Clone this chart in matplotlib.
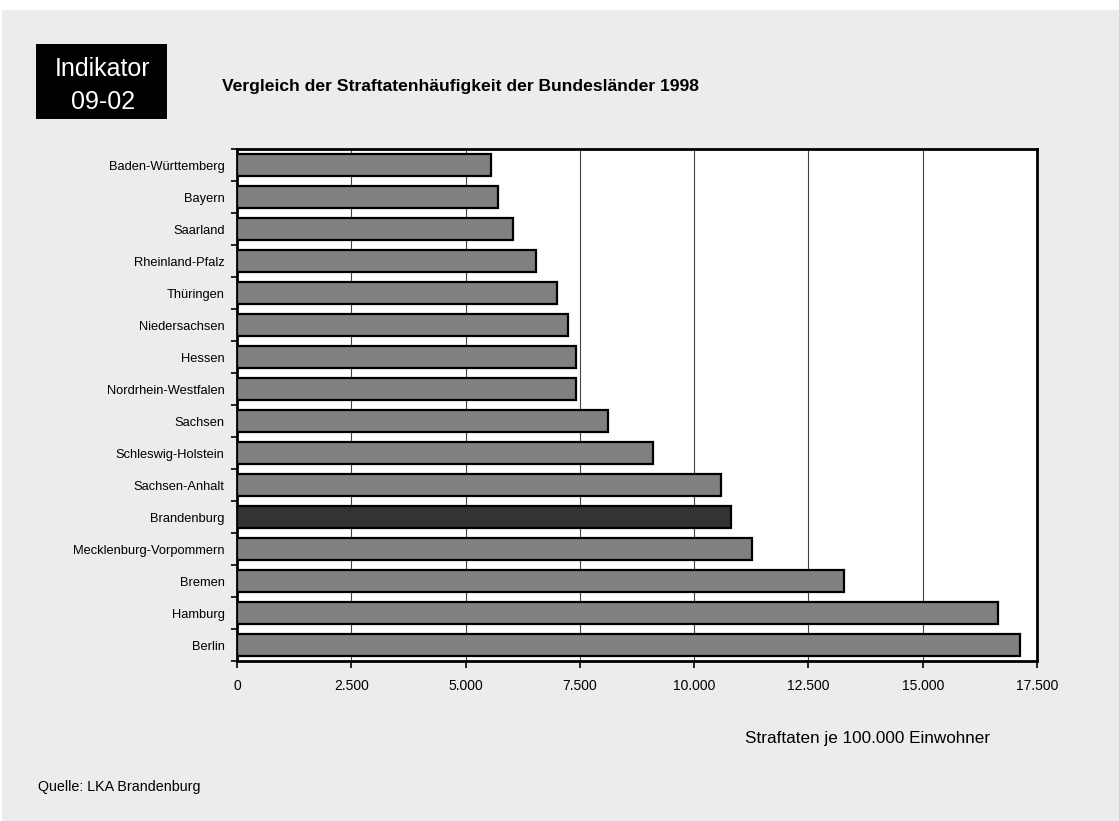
import matplotlib
matplotlib.use("Agg")
import matplotlib.pyplot as plt
from matplotlib.patches import Rectangle
from matplotlib.ticker import FuncFormatter
import numpy as np

plt.rcParams['font.family'] = ['Liberation Sans', 'DejaVu Sans']

# Straftaten je 100.000 Einwohner, 1998
laender = ["Baden-Württemberg", "Bayern", "Saarland", "Rheinland-Pfalz",
           "Thüringen", "Niedersachsen", "Hessen", "Nordrhein-Westfalen",
           "Sachsen", "Schleswig-Holstein", "Sachsen-Anhalt", "Brandenburg",
           "Mecklenburg-Vorpommern", "Bremen", "Hamburg", "Berlin"]
werte = [5550, 5700, 6030, 6530, 6990, 7230, 7410, 7410,
         8110, 9090, 10580, 10800, 11270, 13280, 16650, 17130]
hervorgehoben = "Brandenburg"
x_ticks = [0, 2500, 5000, 7500, 10000, 12500, 15000, 17500]

W, H = 1119, 821
fig = plt.figure(figsize=(W / 100, H / 100), dpi=100)
fig.patch.set_facecolor("white")
# grey panel behind everything
fig.patches.append(Rectangle((2 / W, 0), 1, 1 - 10 / H, transform=fig.transFigure,
                             facecolor="#ececec", edgecolor="none", zorder=-10))

ax = fig.add_axes([237 / W, 1 - 661 / H, 800 / W, 512 / H])
ax.set_facecolor("white")

y = np.arange(len(laender))
farben = ["#333333" if l == hervorgehoben else "#808080" for l in laender]
ax.barh(y, werte, height=0.7, color=farben, edgecolor="black", linewidth=1.6, zorder=3)

ax.set_xlim(0, 17500)
ax.set_ylim(len(laender) - 0.5, -0.5)

ax.set_xticks(x_ticks)
ax.xaxis.set_major_formatter(FuncFormatter(lambda v, p: f"{int(v):,}".replace(",", ".")))
ax.grid(axis="x", color="#444444", linewidth=0.8, zorder=0)

ax.set_yticks(y)
ax.set_yticklabels(laender, fontsize=9.3)
ax.set_yticks(np.arange(len(laender) + 1) - 0.5, minor=True)
ax.tick_params(axis="y", which="major", length=0, pad=9)
ax.tick_params(axis="y", which="minor", length=4, width=1.2, direction="out")
ax.tick_params(axis="x", length=5, width=1.2, direction="out", labelsize=10, pad=8)

for s in ax.spines.values():
    s.set_linewidth(2)
    s.set_color("black")

ax.set_xlabel("Straftaten je 100.000 Einwohner", fontsize=12.3, labelpad=0)
ax.xaxis.set_label_coords((868 - 237) / 800, -(731 - 661) / 512)

# Indikator box
fig.patches.append(Rectangle((36 / W, 1 - 119 / H), 131 / W, 75 / H,
                             transform=fig.transFigure, facecolor="black",
                             edgecolor="none", zorder=1))
fig.text(103 / W, 1 - 69 / H, "Indikator", color="white", fontsize=18,
         ha="center", va="center")
fig.text(103 / W, 1 - 102 / H, "09-02", color="white", fontsize=18,
         ha="center", va="center")

fig.text(222 / W, 1 - 87 / H, "Vergleich der Straftatenhäufigkeit der Bundesländer 1998",
         fontsize=12.6, fontweight="bold", ha="left", va="center")
fig.text(38 / W, 1 - 787 / H, "Quelle: LKA Brandenburg", fontsize=10.3,
         ha="left", va="center")

fig.savefig("out.png", dpi=100, facecolor=fig.get_facecolor())
